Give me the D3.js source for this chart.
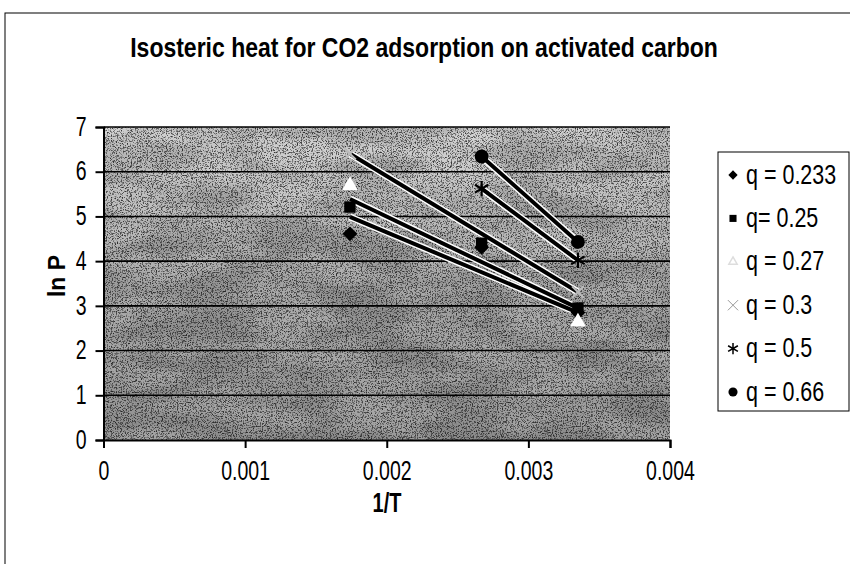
<!DOCTYPE html>
<html>
<head>
<meta charset="utf-8">
<script src="https://cdn.jsdelivr.net/npm/d3@7"></script>
<style>
  body { margin: 0; background: #fff; }
  text { font-family: "Liberation Sans", Arial, sans-serif; fill: #000; }
</style>
</head>
<body>
<div id="chart"></div>
<script>
// 1/T values of the three isotherms
var invT = [0.00174, 0.00267, 0.00335];

// ln P for each loading (null = no point)
var q233 = [4.61, 4.31, 2.85];
var q25  = [5.21, 4.40, 2.95];
var q27  = [5.69, null, 2.64];
var q3   = [6.40, null, 3.31];
var q5   = [null, 5.62, 4.02];
var q66  = [null, 6.34, 4.43];

// linear trendlines, ln P at first and last point of each series
var trendFrom = [4.99, 5.39, null, 6.40, 5.62, 6.34];
var trendTo   = [2.85, 2.95, null, 3.31, 4.02, 4.43];

var names = ["q = 0.233", "q= 0.25", "q = 0.27", "q = 0.3", "q = 0.5", "q = 0.66"];
var xTicks = [0, 0.001, 0.002, 0.003, 0.004];
var yTicks = [0, 1, 2, 3, 4, 5, 6, 7];

var width = 850, height = 564;
var x0 = 103.5, x1 = 670, yTop = 127, yBot = 440;
var stretch = "scale(1,1.2)";
var tickStretch = "scale(1,1.45)";

var svg = d3.select("#chart").append("svg")
  .attr("width", width).attr("height", height);

var defs = svg.append("defs");
var grad = defs.append("linearGradient").attr("id", "bg")
  .attr("x1", 0).attr("y1", 0).attr("x2", 0).attr("y2", 1);
grad.append("stop").attr("offset", "0").attr("stop-color", "#d9d9d9");
grad.append("stop").attr("offset", "0.5").attr("stop-color", "#b0b0b0");
grad.append("stop").attr("offset", "1").attr("stop-color", "#a6a6a6");

// speckle filters to get the dithered look
function speckle(id, freq, oct, seed, table) {
  var f = defs.append("filter").attr("id", id)
    .attr("x", 0).attr("y", 0).attr("width", 1).attr("height", 1);
  f.append("feTurbulence").attr("type", "fractalNoise")
    .attr("baseFrequency", freq).attr("numOctaves", oct).attr("seed", seed);
  f.append("feColorMatrix").attr("type", "matrix")
    .attr("values", "0 0 0 0 0  0 0 0 0 0  0 0 0 0 0  1 0 0 0 0");
  f.append("feComponentTransfer").append("feFuncA")
    .attr("type", "table").attr("tableValues", table);
}
speckle("blob", "0.012 0.035", 2, 5, "0 0 0.2 0.8 1 1");
speckle("specB", 0.8, 2, 3, "0 0 0 0 0 0 1 1 1 1");
speckle("specW", 0.8, 2, 11, "0 0 0 0 0 0 1 1 1 1");

// outer chart frame
svg.append("rect").attr("x", 5).attr("y", 13)
  .attr("width", width).attr("height", height)
  .attr("fill", "none").attr("stroke", "#000").attr("stroke-width", 1);

var x = d3.scaleLinear().domain([0, 0.004]).range([x0, x1]);
var y = d3.scaleLinear().domain([0, 7]).range([yBot, yTop]);

// plot area
function plotRect() {
  return svg.append("rect").attr("x", x0).attr("y", yTop)
    .attr("width", x1 - x0).attr("height", yBot - yTop);
}
plotRect().attr("fill", "url(#bg)");
plotRect().attr("fill", "#7a7a7a").attr("opacity", 0.18).attr("filter", "url(#blob)");
plotRect().attr("fill", "#000").attr("opacity", 0.4).attr("filter", "url(#specB)");
plotRect().attr("fill", "#fff").attr("opacity", 0.55).attr("filter", "url(#specW)");

// gridlines
svg.append("g").selectAll("line").data(yTicks.slice(1)).enter().append("line")
  .attr("x1", x0).attr("x2", x1)
  .attr("y1", function(d){ return y(d); }).attr("y2", function(d){ return y(d); })
  .attr("stroke", "#000").attr("stroke-width", 1.6);

// axes
var gy = svg.append("g").attr("transform", "translate(" + x0 + ",0)")
  .call(d3.axisLeft(y).tickValues(yTicks).tickSize(8).tickPadding(9).tickFormat(d3.format("d")));
var gx = svg.append("g").attr("transform", "translate(0," + yBot + ")")
  .call(d3.axisBottom(x).tickValues(xTicks).tickSize(8).tickFormat(function(d){ return d === 0 ? "0" : d3.format(".3f")(d); }));
[gx, gy].forEach(function(g){
  g.select(".domain").attr("stroke-width", 2);
  g.selectAll(".tick line").attr("stroke-width", 2);
  g.selectAll("text").style("font-size", "19.5px").attr("transform", tickStretch);
});
gy.selectAll("text").attr("dy", "0.29em");
gx.selectAll("text").attr("y", 40 / 1.45).attr("dy", 0);

// trendlines
var all = [q233, q25, q27, q3, q5, q66];
var trends = [];
all.forEach(function(s, i){
  if (trendFrom[i] == null) return;
  var idx = s.map(function(v, k){ return v == null ? -1 : k; }).filter(function(k){ return k >= 0; });
  trends.push([[invT[idx[0]], trendFrom[i]], [invT[idx[idx.length - 1]], trendTo[i]]]);
});
var line = d3.line().x(function(d){ return x(d[0]); }).y(function(d){ return y(d[1]); });
var tg = svg.append("g");
tg.selectAll(".halo").data(trends).enter().append("path")
  .attr("d", line).attr("stroke", "#fff").attr("stroke-width", 7).attr("fill", "none");
tg.selectAll(".tl").data(trends).enter().append("path")
  .attr("d", line).attr("stroke", "#000").attr("stroke-width", 4).attr("fill", "none")
  .attr("stroke-linecap", "butt");

// markers
var marks = [
  { type: d3.symbolDiamond2, size: 140, fill: "#000", stroke: "none" },
  { type: d3.symbolSquare, size: 130, fill: "#000", stroke: "none" },
  { type: d3.symbolTriangle, size: 110, fill: "#fff", stroke: "none" },
  { type: d3.symbolX, size: 90, fill: "none", stroke: "#bbb" },
  { type: d3.symbolAsterisk, size: 170, fill: "none", stroke: "#000" },
  { type: d3.symbolCircle, size: 150, fill: "#000", stroke: "none" }
];
var mg = svg.append("g");
all.forEach(function(s, i){
  var pts = s.map(function(v, k){ return [invT[k], v]; }).filter(function(p){ return p[1] != null; });
  mg.append("g").selectAll("path").data(pts).enter().append("path")
    .attr("transform", function(d){ return "translate(" + x(d[0]) + "," + y(d[1]) + ")"; })
    .attr("d", d3.symbol().type(marks[i].type).size(marks[i].size))
    .attr("fill", marks[i].fill).attr("stroke", marks[i].stroke).attr("stroke-width", 2.2);
});

// titles
svg.append("text").attr("transform", "translate(424,57) " + stretch)
  .attr("text-anchor", "middle").style("font-size", "23px").style("font-weight", "bold")
  .text("Isosteric heat for CO2 adsorption on activated carbon");
svg.append("text").attr("transform", "translate(387,512) scale(1,1.35)")
  .attr("text-anchor", "middle").style("font-size", "20px").style("font-weight", "bold")
  .text("1/T");
svg.append("text").attr("transform", "translate(65,276) rotate(-90)")
  .attr("text-anchor", "middle").style("font-size", "23px").style("font-weight", "bold")
  .text("ln P");

// legend
var lg = svg.append("g").attr("transform", "translate(718,152)");
lg.append("rect").attr("width", 131).attr("height", 259)
  .attr("fill", "#fff").attr("stroke", "#000").attr("stroke-width", 1);
var legMarks = [
  { type: d3.symbolDiamond2, size: 55, fill: "#000", stroke: "none" },
  { type: d3.symbolSquare, size: 50, fill: "#000", stroke: "none" },
  { type: d3.symbolTriangle, size: 30, fill: "#fff", stroke: "#ddd" },
  { type: d3.symbolX, size: 70, fill: "none", stroke: "#999" },
  { type: d3.symbolAsterisk, size: 90, fill: "none", stroke: "#000" },
  { type: d3.symbolCircle, size: 65, fill: "#000", stroke: "none" }
];
var rows = lg.selectAll(".row").data(names).enter().append("g")
  .attr("transform", function(d, i){ return "translate(0," + (23 + i * 43.4) + ")"; });
rows.append("path")
  .attr("transform", "translate(15,0)")
  .attr("d", function(d, i){ return d3.symbol().type(legMarks[i].type).size(legMarks[i].size)(); })
  .attr("fill", function(d, i){ return legMarks[i].fill; })
  .attr("stroke", function(d, i){ return legMarks[i].stroke; })
  .attr("stroke-width", function(d, i){ return i === 3 ? 1 : 1.5; });
rows.append("text").attr("transform", "translate(28,8.5) scale(1,1.25)")
  .style("font-size", "21.5px").text(function(d){ return d; });
</script>
</body>
</html>
